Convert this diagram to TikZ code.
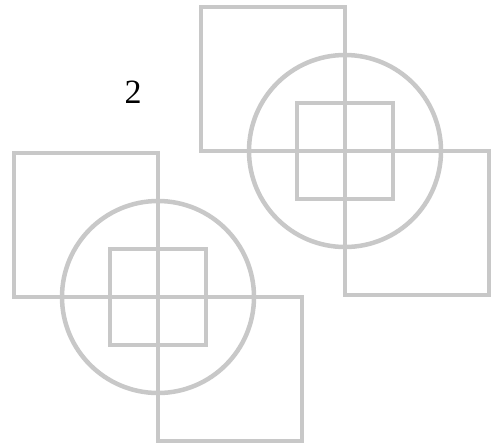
\documentclass[tikz,border=0pt]{standalone}
\usepackage{fontspec}
\setmainfont{Liberation Serif}
\usepackage{xcolor}
\definecolor{MotifGray}{HTML}{C8C8C8}
\usepackage{tikz}
\usetikzlibrary{calc}

\begin{document}
\begin{tikzpicture}[x=1pt, y=-1pt,
    motif/.style={draw=MotifGray, line width=4.5pt}]
  % Page frame (pixel-like units, y grows downwards)
  \useasboundingbox (0,0) rectangle (492,447);
  \def\side{144}   % outer square side
  \def\half{48}    % inner square half side
  \def\rad{96pt}   % circle radius

  % Centres of the two motifs
  \coordinate (lower) at (158,297);
  \coordinate (upper) at (345,151);

  % Each motif: two offset squares, a circle and a small square
  \foreach \c in {lower, upper} {
    \draw[motif] (\c) rectangle ++(-\side,-\side);
    \draw[motif] (\c) rectangle ++(\side,\side);
    \draw[motif] (\c) circle[radius=\rad];
    \draw[motif] ($(\c)+(-\half,-\half)$) rectangle ($(\c)+(\half,\half)$);
  }

  % Label
  \node[font=\fontsize{34}{38}\selectfont] (num) at (133,92) {2};
\end{tikzpicture}
\end{document}
